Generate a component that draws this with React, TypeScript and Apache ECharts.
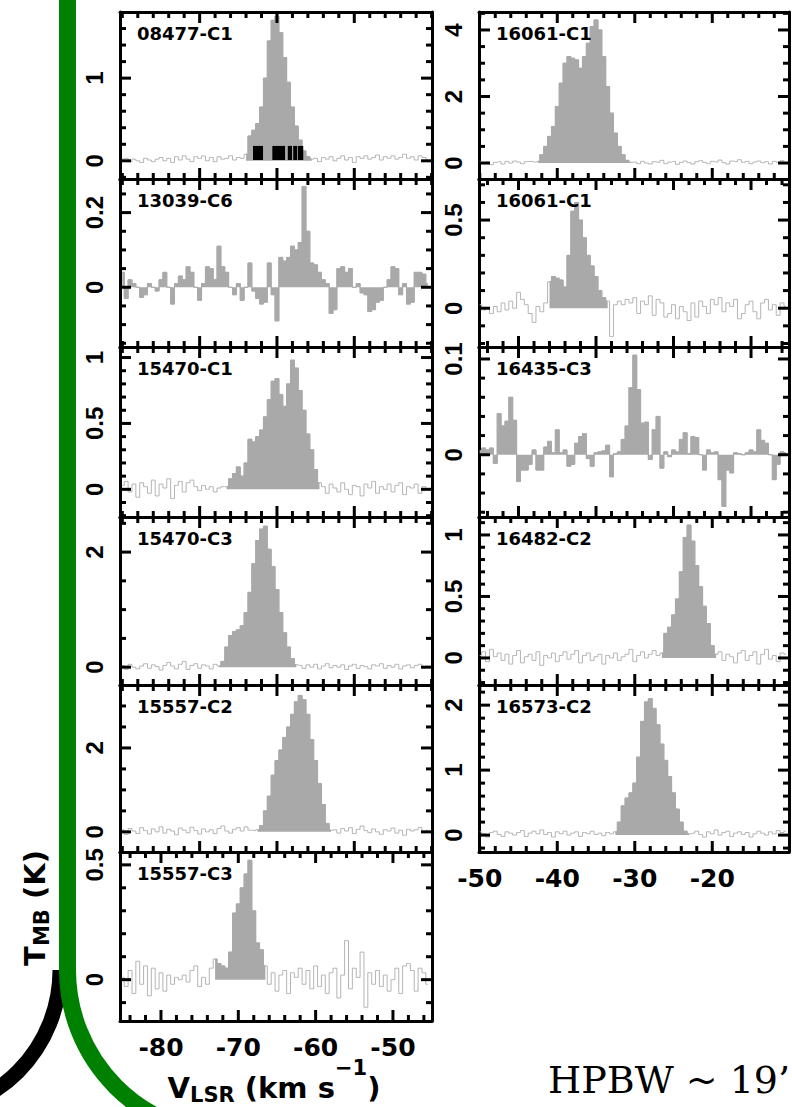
import React, { useEffect, useRef } from "react";
import * as echarts from "echarts";

// ---------------- data ----------------
const panelNames = ["08477-C1", "13039-C6", "15470-C1", "15470-C3", "15557-C2", "15557-C3", "16061-C1", "16061-C1", "16435-C3", "16482-C2", "16573-C2"];
const panelColumn = [0, 0, 0, 0, 0, 0, 1, 1, 1, 1, 1];
const panelRow = [0, 1, 2, 3, 4, 5, 0, 1, 2, 3, 4];

// first channel velocity (km/s) and channel width
const velocityStart = [-85, -85, -85, -85, -85, -85, -50, -50, -50, -50, -50];
const channelWidth = 0.5;

const t08477C1 = [
  0.02, 0.03, -0.01, 0.02, 0.0, -0.02, 0.03, 0.01, -0.01, 0.02,
  0.04, 0.0, 0.03, -0.02, 0.05, 0.01, 0.06, 0.02, -0.01, 0.05,
  0.03, 0.06, 0.0, 0.04, -0.01, 0.05, 0.02, 0.03, 0.06, 0.01,
  0.04, 0.03, 0.08, 0.3, 0.37, 0.45, 0.65, 1.0, 1.45, 1.7,
  1.75, 1.55, 1.25, 0.95, 0.65, 0.42, 0.25, 0.12, 0.05, 0.02,
  0.03, -0.01, 0.04, 0.02, 0.05, 0.0, 0.03, 0.06, 0.01, 0.04,
  -0.02, 0.05, 0.03, 0.06, 0.02, 0.04, 0.07, 0.01, 0.05, 0.03,
  0.06, 0.02, 0.04, 0.08, 0.03, 0.05, 0.01, 0.06, 0.04, 0.02,
];
const t13039C6 = [
  0.04, -0.03, 0.02, 0.01, 0.0, -0.027, -0.02, 0.01, 0.0, -0.01,
  0.02, 0.04, 0.0, -0.045, 0.01, 0.03, 0.02, 0.055, 0.04, 0.0,
  -0.035, 0.01, 0.055, 0.05, 0.02, 0.11, 0.055, 0.04, 0.0, -0.02,
  0.01, -0.035, 0.0, 0.065, -0.01, -0.03, -0.045, -0.04, 0.065, -0.02,
  -0.09, 0.08, 0.07, 0.08, 0.11, 0.1, 0.12, 0.27, 0.15, 0.065,
  0.06, 0.04, 0.02, 0.01, -0.07, -0.06, 0.05, 0.055, 0.04, 0.05,
  0.0, 0.01, -0.015, -0.02, -0.065, -0.06, -0.04, -0.035, 0.0, 0.02,
  0.055, 0.05, -0.02, 0.01, -0.045, -0.04, 0.04, 0.04, 0.035, 0.01,
];
const t15470C1 = [
  0.03, 0.06, -0.02, 0.04, -0.06, 0.05, 0.02, -0.03, 0.07, -0.05,
  0.04, 0.01, 0.08, -0.07, 0.03, 0.06, -0.02, 0.05, 0.07, 0.02,
  -0.01, 0.03, 0.0, 0.02, -0.02, 0.01, 0.02, 0.02, 0.08, 0.12,
  0.17, 0.1, 0.2, 0.38, 0.36, 0.4, 0.45, 0.55, 0.68, 0.82,
  0.84, 0.72, 0.63, 0.8, 0.98, 0.92, 0.75, 0.6, 0.42, 0.3,
  0.15, 0.05, 0.02, -0.03, 0.04, 0.01, -0.02, 0.05, 0.0, -0.04,
  0.03, 0.02, -0.05, 0.04, 0.01, 0.06, -0.03, 0.02, 0.0, 0.04,
  -0.02, 0.03, 0.05, -0.04, 0.02, 0.01, 0.04, -0.03, 0.02, 0.0,
];
const t15470C3 = [
  0.03, -0.04, 0.05, 0.0, -0.03, 0.02, 0.06, -0.02, 0.04, 0.01,
  -0.05, 0.03, 0.08, 0.02, -0.03, 0.05, 0.1, -0.04, 0.03, 0.06,
  -0.02, 0.04, 0.02, -0.03, 0.05, 0.02, 0.1, 0.35, 0.55, 0.62,
  0.65, 0.72, 0.95, 1.3, 1.8, 2.2, 2.4, 2.45, 2.05, 1.75,
  1.35, 0.95, 0.6, 0.35, 0.15, 0.04, 0.03, -0.02, 0.04, 0.0,
  0.05, -0.03, 0.02, 0.06, -0.01, 0.03, 0.0, 0.04, -0.04, 0.02,
  0.05, -0.02, 0.03, 0.01, -0.03, 0.04, 0.02, 0.06, -0.02, 0.03,
  0.0, 0.05, -0.03, 0.02, 0.04, -0.01, 0.03, 0.05, -0.02, 0.02,
];
const t15557C2 = [
  0.05, -0.06, 0.08, 0.02, -0.04, 0.1, 0.03, -0.05, 0.07, 0.0,
  0.12, -0.03, 0.06, 0.02, -0.07, 0.09, 0.04, -0.02, 0.11, 0.03,
  -0.05, 0.07, 0.0, 0.05, -0.04, 0.08, 0.14, 0.02, -0.03, 0.06,
  0.1, 0.02, 0.12, 0.04, 0.03, 0.05, 0.15, 0.5, 0.85, 1.35,
  1.7, 1.95, 2.25, 2.5, 2.8, 3.1, 3.25, 3.15, 2.8, 2.2,
  1.7, 1.15, 0.65, 0.2, 0.04, 0.05, -0.03, 0.08, 0.02, 0.1,
  -0.04, 0.06, 0.14, 0.03, -0.02, 0.07, 0.0, -0.06, 0.05, 0.02,
  0.09, -0.03, 0.04, -0.08, 0.06, 0.02, 0.05, 0.1, -0.02, 0.04,
];
const t15557C3 = [
  0.01, -0.03, 0.04, -0.06, 0.08, -0.02, 0.06, -0.07, 0.05, -0.04,
  0.03, -0.05, 0.02, -0.02, 0.01, 0.0, 0.02, -0.01, 0.04, 0.06,
  -0.03, 0.01, -0.02, 0.05, 0.09, 0.07, 0.06, 0.05, 0.12, 0.29,
  0.33, 0.4, 0.46, 0.52, 0.3, 0.16, 0.13, 0.06, -0.02, 0.03,
  -0.05, 0.02, 0.04, -0.06, 0.03, 0.01, 0.05, -0.02, 0.04, -0.04,
  0.06, -0.03, 0.02, -0.06, 0.03, 0.05, -0.08, 0.02, 0.17, -0.04,
  0.05, 0.01, 0.12, -0.12, 0.03, -0.02, 0.04, -0.03, 0.02, -0.05,
  0.0, 0.05, -0.06, 0.06, 0.07, 0.04, -0.05, 0.05, 0.03, -0.02,
];
const t16061C1a = [
  0.05, -0.02, 0.03, -0.05, 0.02, 0.04, -0.03, 0.05, 0.0, 0.06,
  0.03, -0.02, 0.04, 0.05, 0.03, 0.05, 0.25, 0.5, 0.8, 1.1,
  1.7, 2.4, 3.0, 3.2, 3.15, 3.1, 2.85, 3.2, 3.6, 4.1,
  4.3, 4.0, 3.2, 2.3, 1.5, 0.9, 0.5, 0.25, 0.08, 0.02,
  0.03, -0.02, 0.05, 0.0, -0.03, 0.04, 0.02, 0.08, -0.02, 0.03,
  0.05, -0.04, 0.02, 0.06, 0.01, -0.03, 0.04, 0.07, 0.02, -0.02,
  0.05, 0.03, 0.09, 0.01, -0.03, 0.06, 0.04, 0.1, 0.02, 0.05,
  -0.02, 0.03, 0.06, 0.01, 0.04, -0.03, 0.05, 0.02, 0.07, 0.0,
];
const t16061C1b = [
  0.02, -0.01, 0.0, -0.03, 0.01, -0.02, 0.03, -0.01, 0.04, 0.0,
  0.09, 0.05, 0.02, -0.03, -0.08, 0.01, -0.02, 0.03, 0.15, 0.18,
  0.17, 0.16, 0.12, 0.3, 0.55, 0.6, 0.5, 0.4, 0.3, 0.24,
  0.18, 0.1, 0.06, 0.04, -0.16, 0.02, 0.04, 0.02, 0.05, 0.03,
  0.06, -0.03, 0.04, 0.02, 0.07, -0.04, 0.05, 0.03, -0.05, -0.03,
  0.02, -0.06, 0.01, -0.02, -0.07, 0.03, -0.05, 0.04, 0.01, -0.03,
  0.05, 0.02, 0.06, -0.02, 0.03, 0.01, 0.05, -0.06, -0.03, 0.02,
  0.04, -0.02, -0.06, 0.03, 0.05, -0.01, 0.02, -0.04, 0.03, 0.01,
];
const t16435C3 = [
  0.004, 0.007, 0.005, 0.007, -0.009, 0.043, 0.03, 0.035, 0.06, 0.036,
  -0.028, -0.016, -0.016, -0.01, 0.005, -0.016, -0.016, 0.008, 0.014, 0.002,
  0.026, 0.002, 0.005, -0.012, -0.01, 0.012, 0.019, 0.022, -0.004, -0.012,
  0.002, 0.003, 0.004, 0.01, -0.023, 0.001, 0.003, 0.016, 0.03, 0.07,
  0.104, 0.068, 0.033, 0.034, -0.005, 0.026, 0.04, -0.014, 0.003, -0.002,
  0.005, 0.003, 0.016, 0.023, 0.001, 0.019, 0.018, 0.0, -0.016, 0.005,
  0.002, 0.003, -0.026, -0.054, -0.016, -0.019, 0.002, 0.001, 0.0, 0.002,
  0.005, 0.003, 0.026, 0.015, 0.012, 0.0, -0.026, -0.01, 0.003, 0.002,
];
const t16482C2 = [
  0.02, 0.05, -0.03, 0.07, 0.01, 0.04, -0.02, 0.03, -0.05, 0.02,
  0.06, -0.04, 0.01, 0.03, -0.02, 0.05, -0.06, 0.02, 0.0, 0.04,
  -0.03, 0.02, 0.05, -0.01, 0.03, 0.06, -0.04, 0.02, 0.04, -0.02,
  0.01, 0.03, -0.05, 0.02, 0.0, 0.04, -0.02, 0.01, 0.03, 0.07,
  -0.03, 0.02, 0.05, 0.0, 0.03, 0.06, 0.02, 0.04, 0.2, 0.25,
  0.35, 0.48, 0.7, 0.98, 1.08, 0.95, 0.75, 0.58, 0.42, 0.28,
  0.1, 0.03, 0.05, -0.02, 0.03, 0.01, -0.04, 0.04, 0.06, -0.02,
  0.02, 0.05, -0.05, 0.03, 0.07, -0.01, 0.02, -0.03, 0.04, 0.03,
];
const t16573C2 = [
  0.05, 0.02, -0.03, 0.04, 0.06, 0.01, -0.02, 0.05, 0.03, 0.0,
  0.04, 0.07, -0.02, 0.03, 0.06, 0.02, 0.08, 0.01, 0.04, -0.03,
  0.05, 0.02, 0.06, 0.0, 0.03, 0.05, -0.02, 0.04, 0.02, 0.06,
  0.01, 0.03, -0.01, 0.04, 0.02, 0.05, 0.2, 0.45, 0.57, 0.65,
  0.8, 1.2, 1.75, 2.05, 2.1, 1.95, 1.7, 1.4, 1.15, 0.9,
  0.65, 0.4, 0.2, 0.06, 0.02, 0.03, 0.06, 0.01, -0.03, 0.05,
  0.02, 0.08, 0.0, 0.04, 0.06, -0.02, 0.03, 0.05, 0.01, 0.04,
  -0.03, 0.02, 0.06, 0.03, 0.0, 0.05, 0.02, 0.07, 0.04, 0.06,
];
const spectra = [t08477C1, t13039C6, t15470C1, t15470C3, t15557C2, t15557C3, t16061C1a, t16061C1b, t16435C3, t16482C2, t16573C2];

// velocity ranges drawn as filled histograms
const fillRanges = [
  [-69, -60.5], [-85, -45.5], [-71.5, -59.5], [-72.5, -62.5], [-67.5, -58], [-73, -66.5],
  [-42.5, -30.5], [-41, -33.5], [-50, -10.5], [-26.5, -19.5], [-32.5, -23],
];

// black channel markers in 08477-C1 [vFrom, vTo]
const markers08477 = [[-68.1, -66.8], [-65.6, -63.95], [-63.6, -63.05], [-62.9, -62.4], [-62.3, -61.6]];
const markerTop08477 = 0.18;
const markerBottom08477 = 0.01;

// axes
const xRangeByColumn = [[-85.3, -44.95], [-50.1, -10.1]];
const yMins = [-0.22, -0.16, -0.21, -0.31, -0.48, -0.18, -0.48, -0.22, -0.065, -0.22, -0.26];
const yMaxs = [1.8, 0.29, 1.08, 2.61, 3.5, 0.556, 4.54, 0.733, 0.1125, 1.146, 2.31];
const yTickLabels = [[0, 1], [0, 0.2], [0, 0.5, 1], [0, 2], [0, 2], [0, 0.5], [0, 2, 4], [0, 0.5], [0, 0.1], [0, 0.5, 1], [0, 1, 2]];
const yMinorSteps = [0.2, 0.05, 0.1, 0.5, 0.5, 0.1, 0.5, 0.1, 0.02, 0.1, 0.2];
const xMajorTicks = [
  [-75, -65, -55], [-75, -65, -55], [-75, -65, -55], [-75, -65, -55], [-75, -65, -55], [-80, -70, -60, -50],
  [-40, -30, -20], [-45, -35, -25, -15], [-45, -35, -25, -15], [-40, -30, -20], [-40, -30, -20],
];
const xMinorStep = 2;
const xTickLabelsLeft = [-80, -70, -60, -50];
const xTickLabelsRight = [-50, -40, -30, -20];

// ---------------- layout ----------------
const COL_LEFT = [120, 479];
const COL_WIDTH = [312, 310];
const ROW_EDGES = [12, 179, 347, 517, 685, 852, 1021];
const FILL_GRAY = "#a9a9a9";
const NOISE_GRAY = "#b4b4b4";
const MAJOR_LEN = 11;
const MINOR_LEN = 6;
const TICK_W = 3;

function r6(v: number) {
  return Math.round(v * 1e6) / 1e6;
}
function stepsWithin(anchor: number, step: number, min: number, max: number, exclude: number[]) {
  const out: number[] = [];
  const kMin = Math.ceil((min - anchor) / step - 1e-9);
  const kMax = Math.floor((max - anchor) / step + 1e-9);
  for (let k = kMin; k <= kMax; k++) {
    const v = r6(anchor + k * step);
    if (v <= min || v >= max) continue;
    if (!exclude.some((e) => Math.abs(e - v) < 1e-9)) out.push(v);
  }
  return out;
}
function panelGeom(p: number) {
  const col = panelColumn[p];
  const row = panelRow[p];
  const top = ROW_EDGES[row];
  return { col, top, height: ROW_EDGES[row + 1] - top, left: COL_LEFT[col], width: COL_WIDTH[col] };
}

// frame ticks (axis furniture) for one panel, mapped linearly onto that panel's grid box
function panelTickGraphics(p: number) {
  const { col, top, height, left, width } = panelGeom(p);
  const [xMin, xMax] = xRangeByColumn[col];
  const yMin = yMins[p];
  const yMax = yMaxs[p];
  const px = (v: number) => left + ((v - xMin) / (xMax - xMin)) * width;
  const py = (v: number) => top + height - ((v - yMin) / (yMax - yMin)) * height;
  const xMaj = xMajorTicks[p].filter((v) => v > xMin && v < xMax);
  const xMinr = stepsWithin(xMajorTicks[p][0], xMinorStep, xMin, xMax, xMaj);
  const yMaj = yTickLabels[p];
  const yMinr = stepsWithin(0, yMinorSteps[p], yMin, yMax, yMaj);
  const out: any[] = [];
  const rect = (x: number, y: number, w: number, h: number) =>
    out.push({ type: "rect", z: 5, shape: { x, y, width: w, height: h }, style: { fill: "#000" } });
  const xTick = (v: number, len: number) => {
    const x = px(v) - TICK_W / 2;
    rect(x, top + height - len, TICK_W, len);
    rect(x, top, TICK_W, len);
  };
  const yTick = (v: number, len: number) => {
    const y = py(v) - TICK_W / 2;
    rect(left, y, len, TICK_W);
    rect(left + width - len, y, len, TICK_W);
  };
  xMaj.forEach((v) => xTick(v, MAJOR_LEN));
  xMinr.forEach((v) => xTick(v, MINOR_LEN));
  yMaj.forEach((v) => yTick(v, MAJOR_LEN));
  yMinr.forEach((v) => yTick(v, MINOR_LEN));
  return out;
}

function buildOption() {
  const grid: any[] = [];
  const xAxis: any[] = [];
  const yAxis: any[] = [];
  const series: any[] = [];
  const graphic: any[] = [];
  const frameStyle = { color: "#000", width: 3 };

  panelNames.forEach((name, p) => {
    const { col, top, height, left, width } = panelGeom(p);
    grid.push({ left, top, width, height });
    const [xMin, xMax] = xRangeByColumn[col];
    const yMin = yMins[p];
    const yMax = yMaxs[p];
    const isBottom = p === 5 || p === 10;
    const xLabels = col === 0 ? xTickLabelsLeft : xTickLabelsRight;

    const mkX = (pos: string, labels: number[] | null) => ({
      type: "value",
      gridIndex: p,
      min: xMin,
      max: xMax,
      position: pos,
      axisLine: { show: true, onZero: false, lineStyle: frameStyle },
      axisTick: { show: false },
      axisLabel: labels
        ? { show: true, customValues: labels, margin: 14, color: "#000", fontFamily: "DejaVu Sans", fontWeight: "bold", fontSize: 25 }
        : { show: false },
      splitLine: { show: false },
    });
    const mkY = (pos: string, labels: number[] | null) => ({
      type: "value",
      gridIndex: p,
      min: yMin,
      max: yMax,
      position: pos,
      axisLine: { show: true, onZero: false, lineStyle: frameStyle },
      axisTick: { show: false },
      axisLabel: labels
        ? { show: true, customValues: labels, rotate: 90, margin: 14, color: "#000", fontFamily: "Liberation Sans", fontWeight: "bold", fontSize: 24 }
        : { show: false },
      splitLine: { show: false },
    });
    xAxis.push(mkX("bottom", isBottom ? xLabels : null));
    xAxis.push(mkX("top", null));
    yAxis.push(mkY("left", yTickLabels[p]));
    yAxis.push(mkY("right", null));

    const ax = p * 2;
    const pts = spectra[p].map((t, i) => [r6(velocityStart[p] + i * channelWidth), t]);
    const [f0, f1] = fillRanges[p];
    const fillPts = pts.filter((d) => d[0] >= f0 - 1e-9 && d[0] <= f1 + 1e-9);

    series.push({
      type: "line", xAxisIndex: ax, yAxisIndex: ax, data: pts, step: "middle", symbol: "none", z: 2,
      lineStyle: { color: NOISE_GRAY, width: 1 },
    });
    series.push({
      type: "line", xAxisIndex: ax, yAxisIndex: ax, data: fillPts, step: "middle", symbol: "none", z: 3,
      lineStyle: { color: FILL_GRAY, width: 1 },
      areaStyle: { color: FILL_GRAY, opacity: 1 },
    });

    if (p === 0) {
      series.push({
        type: "custom",
        xAxisIndex: ax,
        yAxisIndex: ax,
        z: 4,
        data: markers08477.map(([a, b]) => [a, b, markerBottom08477, markerTop08477]),
        encode: { x: [0, 1], y: [2, 3] },
        renderItem: (params: any, api: any) => {
          const p1 = api.coord([api.value(0), api.value(3)]);
          const p2 = api.coord([api.value(1), api.value(2)]);
          return {
            type: "rect",
            shape: { x: p1[0], y: p1[1], width: p2[0] - p1[0], height: p2[1] - p1[1] },
            style: { fill: "#000" },
          };
        },
      });
    }

    panelTickGraphics(p).forEach((g) => graphic.push(g));

    graphic.push({
      type: "text",
      x: left + 17,
      y: top + 21,
      z: 10,
      style: { text: name, fill: "#000", font: "bold 18px 'DejaVu Sans'", align: "left", verticalAlign: "middle" },
    });
  });

  // decorative slide curves
  graphic.push({
    type: "arc",
    z: 1,
    shape: { cx: -84, cy: 970, r: 144, startAngle: 0, endAngle: Math.PI / 2, clockwise: true },
    style: { stroke: "#000", lineWidth: 15, fill: "none" },
  });
  graphic.push({ type: "rect", z: 2, shape: { x: 59, y: 0, width: 17, height: 971 }, style: { fill: "#008000" } });
  graphic.push({
    type: "arc",
    z: 2,
    shape: { cx: 232.5, cy: 970, r: 165, startAngle: Math.PI / 2, endAngle: Math.PI, clockwise: true },
    style: { stroke: "#008000", lineWidth: 17, fill: "none" },
  });

  const richMain = { fontSize: 29, fontFamily: "DejaVu Sans", fontWeight: "bold", lineHeight: 36, fill: "#000" };
  const richSub = { fontSize: 21, fontFamily: "DejaVu Sans", fontWeight: "bold", lineHeight: 36, padding: [14, 0, 0, 0], fill: "#000" };
  const richSup = { fontSize: 21, fontFamily: "DejaVu Sans", fontWeight: "bold", lineHeight: 36, padding: [0, 0, 40, 0], fill: "#000" };

  graphic.push({
    type: "text",
    x: 35,
    y: 908,
    rotation: Math.PI / 2,
    z: 10,
    style: { text: "{m|T}{s|MB}{m| (K)}", rich: { m: richMain, s: richSub }, align: "center", verticalAlign: "middle", fill: "#000" },
  });
  graphic.push({
    type: "text",
    x: 274,
    y: 1088,
    z: 10,
    style: {
      text: "{m|V}{s|LSR}{m| (km s}{u|\u22121}{m|)}",
      rich: { m: richMain, s: richSub, u: richSup },
      align: "center",
      verticalAlign: "middle",
      fill: "#000",
    },
  });
  graphic.push({
    type: "text",
    x: 548,
    y: 1080,
    z: 10,
    style: { text: "HPBW ~ 19\u2019", fill: "#000", font: "38px 'DejaVu Serif'", align: "left", verticalAlign: "middle" },
  });

  return { animation: false, backgroundColor: "#ffffff", grid, xAxis, yAxis, series, graphic };
}

export default function App() {
  const ref = useRef<HTMLDivElement>(null);
  useEffect(() => {
    document.body.style.margin = "0";
    document.body.style.overflow = "hidden";
    const chart = echarts.init(ref.current!, null, { renderer: "svg" });
    chart.setOption(buildOption() as any);
    return () => chart.dispose();
  }, []);
  return <div ref={ref} style={{ position: "absolute", left: 0, top: 0, width: 792, height: 1107 }} />;
}
